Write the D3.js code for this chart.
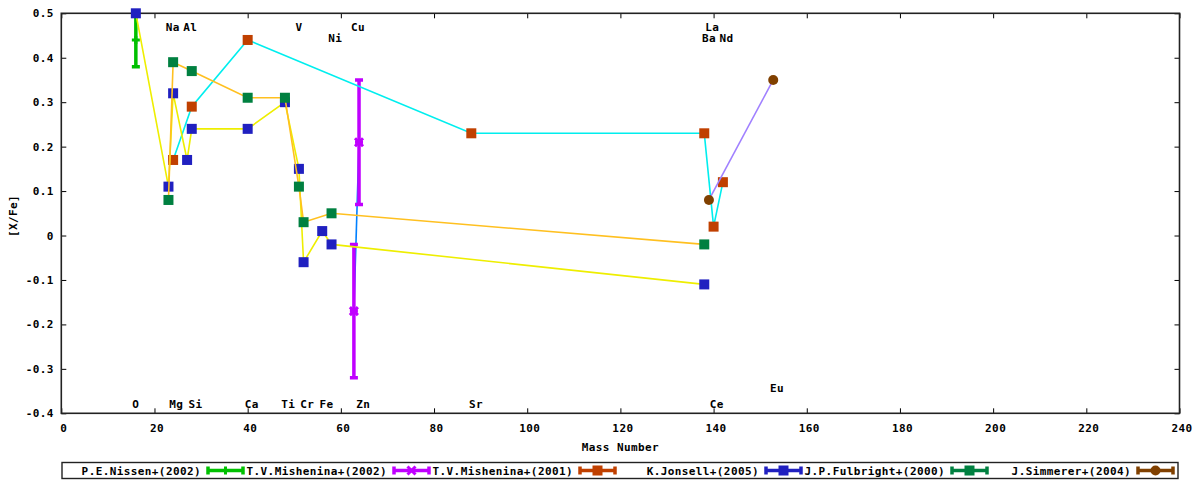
<!DOCTYPE html>
<html>
<head>
<meta charset="utf-8">
<script src="https://cdn.jsdelivr.net/npm/d3@7"></script>
<style>
	body { margin: 0; background: #fff; }
	text {
		font-family: "DejaVu Sans Mono", "Liberation Mono", monospace;
		font-weight: bold;
		font-size: 11px;
		letter-spacing: 0.4px;
		fill: #000;
	}
</style>
</head>
<body>
<svg id="chart" width="1200" height="480"></svg>
<script>
// P.E.Nissen+(2002)
const nissenMass = [16];
const nissenVal = [0.44];
const nissenErr = [0.06];

// T.V.Mishenina+(2002): Cu, Zn
const mish02Mass = [63.9, 62.8];
const mish02Val = [0.21, -0.17];
const mish02Err = [0.14, 0.15];

// T.V.Mishenina+(2001): Mg, Si, Ca, Sr, Ba, Ce, Nd
const mish01Mass = [24, 28, 40, 88, 138, 140, 142];
const mish01Val = [0.17, 0.29, 0.44, 0.23, 0.23, 0.02, 0.12];

// K.Jonsell+(2005): O, Na, Mg, Al, Si, Ca, Ti, V, Cr, Fe, Ni, Ba
const jonsellMass = [16, 23, 24, 27, 28, 40, 48, 51, 52, 56, 58, 138];
const jonsellVal = [0.5, 0.11, 0.32, 0.17, 0.24, 0.24, 0.3, 0.15, -0.06, 0.01, -0.02, -0.11];

// J.P.Fulbright+(2000): Na, Mg, Si, Ca, Ti, V, Cr, Ni, Ba
const fulbrightMass = [23, 24, 28, 40, 48, 51, 52, 58, 138];
const fulbrightVal = [0.08, 0.39, 0.37, 0.31, 0.31, 0.11, 0.03, 0.05, -0.02];

// J.Simmerer+(2004): La, Eu
const simmererMass = [139, 152.8];
const simmererVal = [0.08, 0.35];

// element labels written on the plot
const labelText = ["O", "Mg", "Si", "Ca", "Ti", "Cr", "Fe", "Zn", "Sr", "Ce", "Eu",
	"Na", "Al", "V", "Cu", "Ni", "La", "Ba", "Nd"];
const labelMass = [16.0, 24.7, 28.8, 40.9, 48.7, 52.8, 56.9, 64.8, 89.0, 140.7, 153.6,
	23.9, 27.7, 51.0, 63.7, 58.8, 139.7, 139.0, 142.8];
const labelVal = [-0.378, -0.378, -0.378, -0.378, -0.378, -0.378, -0.378, -0.378, -0.378, -0.378, -0.341,
	0.471, 0.471, 0.471, 0.471, 0.445, 0.471, 0.445, 0.445];

const xTicks = [0, 20, 40, 60, 80, 100, 120, 140, 160, 180, 200, 220, 240];
const yTicks = [-0.4, -0.3, -0.2, -0.1, 0, 0.1, 0.2, 0.3, 0.4, 0.5];

const series = [
	{ name: "P.E.Nissen+(2002)", mass: nissenMass, val: nissenVal, err: nissenErr, color: "#00c000", lineColor: "#ff0000", marker: "plus" },
	{ name: "T.V.Mishenina+(2002)", mass: mish02Mass, val: mish02Val, err: mish02Err, color: "#c000ff", lineColor: "#0080ff", marker: "star" },
	{ name: "T.V.Mishenina+(2001)", mass: mish01Mass, val: mish01Val, err: null, color: "#c04000", lineColor: "#00eeee", marker: "square" },
	{ name: "K.Jonsell+(2005)", mass: jonsellMass, val: jonsellVal, err: null, color: "#2020c0", lineColor: "#eeee00", marker: "square" },
	{ name: "J.P.Fulbright+(2000)", mass: fulbrightMass, val: fulbrightVal, err: null, color: "#008040", lineColor: "#ffc020", marker: "square" },
	{ name: "J.Simmerer+(2004)", mass: simmererMass, val: simmererVal, err: null, color: "#804000", lineColor: "#a080ff", marker: "circle" },
];

const svg = d3.select("#chart");
const plotLeft = 61.3, plotRight = 1179.5, plotTop = 13.3, plotBottom = 413.3;

const x = d3.scaleLinear().domain([0, 240]).range([plotLeft, plotRight]);
const y = d3.scaleLinear().domain([-0.4, 0.5]).range([plotBottom, plotTop]);

// Axes, ticks pointing inwards and mirrored
const fmtY = (d) => (Math.abs(d) < 1e-9 ? "0" : d.toFixed(1));

const axisG = svg.append("g");
const xAxisG = axisG.append("g")
	.attr("transform", `translate(0,${plotBottom})`)
	.call(d3.axisBottom(x).tickValues(xTicks).tickSize(-5).tickSizeOuter(0).tickPadding(11));
axisG.append("g")
	.attr("transform", `translate(0,${plotTop})`)
	.call(d3.axisTop(x).tickValues(xTicks).tickSize(-5).tickSizeOuter(0).tickFormat(""));
axisG.append("g")
	.attr("transform", `translate(${plotLeft},0)`)
	.call(d3.axisLeft(y).tickValues(yTicks).tickSize(-5).tickSizeOuter(0).tickPadding(7.5).tickFormat(fmtY));
axisG.append("g")
	.attr("transform", `translate(${plotRight},0)`)
	.call(d3.axisRight(y).tickValues(yTicks).tickSize(-5).tickSizeOuter(0).tickFormat(""));

axisG.selectAll(".domain").remove();
axisG.selectAll(".tick line").attr("stroke", "#000").attr("stroke-width", 1);
axisG.selectAll("g").attr("font-family", null).attr("font-size", null);
axisG.selectAll(".tick text").attr("fill", "#000");
xAxisG.selectAll(".tick text").attr("dx", 2);

svg.append("rect")
	.attr("x", plotLeft).attr("y", plotTop)
	.attr("width", plotRight - plotLeft).attr("height", plotBottom - plotTop)
	.attr("fill", "none").attr("stroke", "#222").attr("stroke-width", 1.6);

// Axis titles
svg.append("text")
	.attr("x", (plotLeft + plotRight) / 2).attr("y", 447)
	.attr("text-anchor", "middle").attr("dominant-baseline", "central")
	.text("Mass Number");
svg.append("text")
	.attr("transform", "translate(13,216) rotate(-90)")
	.attr("text-anchor", "middle").attr("dominant-baseline", "central")
	.text("[X/Fe]");

// Element labels
svg.append("g")
	.selectAll("text")
	.data(labelText)
	.join("text")
	.attr("x", (d, i) => x(labelMass[i]))
	.attr("y", (d, i) => y(labelVal[i]) + 1)
	.attr("text-anchor", "middle")
	.attr("dominant-baseline", "central")
	.text((d) => d);

function drawMarker(g, type, color, cx, cy) {
	if (type === "square") {
		g.append("rect")
			.attr("x", cx - 5).attr("y", cy - 5)
			.attr("width", 10).attr("height", 10)
			.attr("fill", color);
	} else if (type === "circle") {
		g.append("circle")
			.attr("cx", cx).attr("cy", cy).attr("r", 5)
			.attr("fill", color);
	} else if (type === "plus") {
		g.append("path")
			.attr("d", `M${cx - 4},${cy}H${cx + 4}M${cx},${cy - 4}V${cy + 4}`)
			.attr("stroke", color).attr("stroke-width", 3).attr("fill", "none");
	} else if (type === "star") {
		g.append("path")
			.attr("d", `M${cx - 4},${cy - 4}L${cx + 4},${cy + 4}M${cx + 4},${cy - 4}L${cx - 4},${cy + 4}M${cx - 4},${cy}H${cx + 4}`)
			.attr("stroke", color).attr("stroke-width", 3).attr("fill", "none");
	}
}

const line = d3.line().x((d) => x(d[0])).y((d) => y(d[1]));
const plotG = svg.append("g");

series.forEach((s) => {
	const pts = s.mass.map((m, i) => [m, s.val[i]]);
	const g = plotG.append("g");

	// connecting line
	if (pts.length > 1) {
		g.append("path")
			.datum(pts)
			.attr("d", line)
			.attr("fill", "none")
			.attr("stroke", s.lineColor)
			.attr("stroke-width", 1.6);
	}

	// error bars
	if (s.err) {
		pts.forEach((p, i) => {
			const cx = x(p[0]);
			const y0 = y(p[1] - s.err[i]);
			const y1 = y(p[1] + s.err[i]);
			g.append("path")
				.attr("d", `M${cx},${y0}V${y1}M${cx - 4},${y0}H${cx + 4}M${cx - 4},${y1}H${cx + 4}`)
				.attr("stroke", s.color)
				.attr("stroke-width", 3.5)
				.attr("fill", "none");
		});
	}

	pts.forEach((p) => drawMarker(g, s.marker, s.color, x(p[0]), y(p[1])));
});

// Legend
const legX = 62, legY = 462.5, legW = 1116, legH = 16;
const colW = legW / series.length;
const legG = svg.append("g");
legG.append("rect")
	.attr("x", legX).attr("y", legY)
	.attr("width", legW).attr("height", legH)
	.attr("fill", "#fff").attr("stroke", "#222").attr("stroke-width", 1.4);

series.forEach((s, i) => {
	const cx0 = legX + i * colW;
	const cy = legY + legH / 2;
	legG.append("text")
		.attr("x", cx0 + 139)
		.attr("y", cy + 0.5)
		.attr("text-anchor", "end")
		.attr("dominant-baseline", "central")
		.text(s.name);
	const a = cx0 + 146, b = cx0 + 181;
	legG.append("path")
		.attr("d", `M${a},${cy}H${b}M${a},${cy - 4}V${cy + 4}M${b},${cy - 4}V${cy + 4}`)
		.attr("stroke", s.color).attr("stroke-width", 3.5).attr("fill", "none");
	drawMarker(legG, s.marker, s.color, (a + b) / 2, cy);
});
</script>
</body>
</html>
